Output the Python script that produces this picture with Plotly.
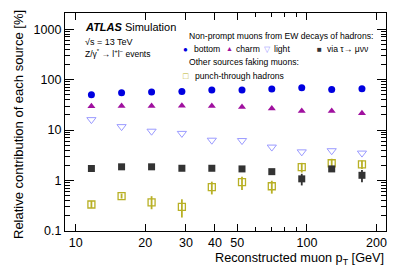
import plotly.graph_objects as go

pt = [11.7, 15.8, 21.3, 28.8, 38.8, 52.4, 70.5, 95.0, 128.0, 173.0]
bottom = [50, 55, 57, 58, 62, 62, 65, 69, 64, 66]
charm = [29.6, 30, 30, 30.5, 30, 28.8, 26.7, 24, 24, 21.5]
light = [16.1, 11.7, 9.5, 8.6, 6.3, 6.2, 4.6, 3.7, 3.9, 3.5]
tau = [1.73, 1.87, 1.87, 1.75, 1.75, 1.7, 1.5, 1.08, 1.7, 1.27]
tau_err = [0.03, 0.03, 0.04, 0.05, 0.06, 0.07, 0.08, 0.28, 0.15, 0.35]
punch = [0.335, 0.49, 0.37, 0.30, 0.74, 0.93, 0.77, 1.84, 2.2, 2.1]
punch_err_up = [0.06, 0.06, 0.12, 0.125, 0.21, 0.26, 0.22, 0.4, 0.5, 0.4]
punch_err_dn = [0.05, 0.05, 0.10, 0.115, 0.21, 0.28, 0.22, 0.4, 0.5, 0.4]

x_tick_vals = [10, 20, 30, 40, 50, 100, 200]
x_tick_text = ["10", "20", "30", "40", "50", "100", "200"]
y_tick_vals = [0.1, 1, 10, 100, 1000]
y_tick_text = ["0.1", "1", "10", "100", "1000"]

FONT = "Liberation Sans, Arial, Helvetica, sans-serif"
c_bottom = "#0000e0"
c_charm = "#a0109f"
c_light = "#9a9aff"
c_tau = "#333333"
c_punch = "#b8b025"

W, H = 407, 276
ML, MR, MT, MB = 65, 21, 13, 45
PW, PH = W - ML - MR, H - MT - MB

fig = go.Figure()
fig.add_trace(go.Scatter(x=pt, y=punch, mode="markers",
                         marker=dict(symbol="square-open", size=7, color=c_punch, line=dict(width=1.3)),
                         error_y=dict(type="data", symmetric=False, array=punch_err_up,
                                      arrayminus=punch_err_dn, color=c_punch, thickness=1.8, width=0)))
fig.add_trace(go.Scatter(x=pt, y=tau, mode="markers",
                         marker=dict(symbol="square", size=7, color=c_tau),
                         error_y=dict(type="data", array=tau_err, color=c_tau, thickness=1.8, width=0)))
fig.add_trace(go.Scatter(x=pt, y=light, mode="markers",
                         marker=dict(symbol="triangle-down-open", size=8, color=c_light, line=dict(width=1))))
fig.add_trace(go.Scatter(x=pt, y=charm, mode="markers",
                         marker=dict(symbol="triangle-up", size=7, color=c_charm)))
fig.add_trace(go.Scatter(x=pt, y=bottom, mode="markers",
                         marker=dict(symbol="circle", size=7, color=c_bottom)))

x_minor = [60, 70, 80, 90]
y_minor = [m * d for d in (0.1, 1, 10, 100, 1000) for m in range(2, 10) if m * d < 2100]

fig.update_layout(
    width=W, height=H,
    margin=dict(l=ML, r=MR, t=MT, b=MB, autoexpand=False),
    paper_bgcolor="white", plot_bgcolor="white",
    showlegend=False,
    font=dict(family=FONT, size=12, color="black"),
    xaxis=dict(type="log", range=[0.954, 2.342], tickmode="array", tickvals=x_tick_vals, ticktext=x_tick_text,
               ticks="inside", ticklen=7, tickwidth=1, tickcolor="black", automargin=False,
               showline=True, linecolor="black", linewidth=1.3, mirror="allticks",
               showgrid=False, zeroline=False, tickfont=dict(size=12.5),
               minor=dict(tickvals=x_minor, ticks="inside", ticklen=4, tickcolor="black", showgrid=False)),
    yaxis=dict(type="log", range=[-1, 3.32], tickmode="array", tickvals=y_tick_vals, ticktext=y_tick_text,
               ticks="inside", ticklen=9, tickwidth=1, tickcolor="black", automargin=False,
               showline=True, linecolor="black", linewidth=1.3, mirror="allticks",
               showgrid=False, zeroline=False, tickfont=dict(size=12.5),
               minor=dict(tickvals=y_minor, ticks="inside", ticklen=5, tickcolor="black", showgrid=False)),
)

def px(fx, fy):
    return (fx - ML) / PW, 1 - (fy - MT) / PH

anns = [
    (386, 259, "Reconstructed muon p<sub>T</sub> [GeV]", "right", 12.7, 0, "black"),
    (18, 125, "Relative contribution of each source [%]", "center", 13, -90, "black"),
    (83, 27, "<b><i>ATLAS</i></b> Simulation", "left", 11, 0, "black"),
    (83, 42, "√s = 13 TeV", "left", 9, 0, "black"),
    (83, 53, "Z/γ<sup>*</sup> → l<sup>+</sup>l<sup>−</sup> events", "left", 8.5, 0, "black"),
    (187, 36, "Non-prompt muons from EW decays of hadrons:", "left", 8.6, 0, "black"),
    (185, 49, "●", "center", 8, 0, c_bottom),
    (192, 49, "bottom", "left", 8.6, 0, "black"),
    (230, 48.5, "▲", "center", 7, 0, c_charm),
    (234, 49, "charm", "left", 8.6, 0, "black"),
    (267, 49, "▽", "center", 8, 0, c_light),
    (272, 49, "light", "left", 8.6, 0, "black"),
    (319, 49, "■", "center", 8, 0, c_tau),
    (325, 49, "via τ→ μνν", "left", 8.6, 0, "black"),
    (187, 62, "Other sources faking muons:", "left", 8.6, 0, "black"),
    (186, 76, "□", "center", 9, 0, c_punch),
    (193, 76, "punch-through hadrons", "left", 8.6, 0, "black"),
]
for fx, fy, text, anchor, size, angle, color in anns:
    x, y = px(fx, fy)
    fig.add_annotation(x=x, y=y, xref="paper", yref="paper", showarrow=False, text=text,
                       xanchor=anchor, yanchor="middle", textangle=angle,
                       font=dict(size=size, family=FONT, color=color))

fig.write_html("out.html", config={"displayModeBar": False},
               post_script="document.body.style.margin='0';document.body.style.overflow='hidden';")
